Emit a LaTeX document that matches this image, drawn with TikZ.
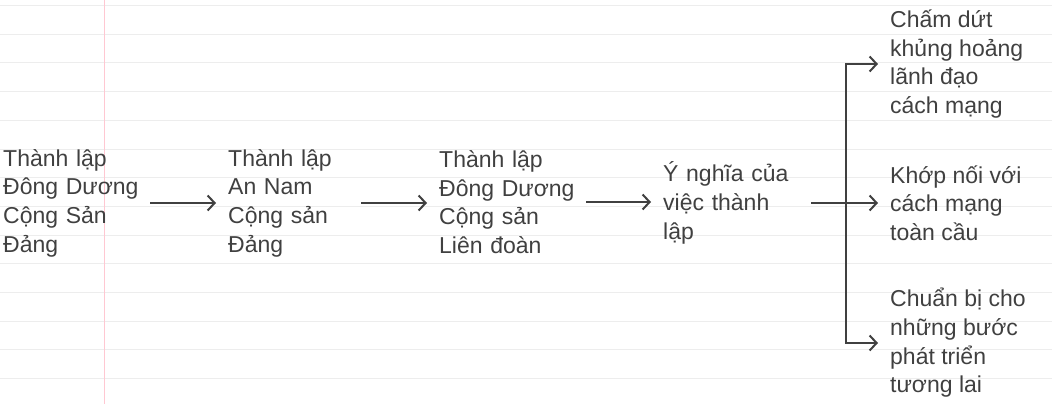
\documentclass[tikz,border=0pt]{standalone}
\usepackage{fontspec}
\setmainfont{Liberation Sans}
\usetikzlibrary{arrows.meta,positioning}
\definecolor{ink}{HTML}{404040}
\definecolor{rule}{HTML}{EDEDED}
\definecolor{margin}{HTML}{FFC8D2}
\tikzset{
  txt/.style={anchor=west, inner sep=0pt, align=left, text=ink, font=\fontsize{23}{28.7}\selectfont},
  arr/.style={draw=ink, line width=2pt, -{Straight Barb[length=7pt, width=15pt, line width=2pt]}, shorten >=12pt},
}

\begin{document}
\begin{tikzpicture}[x=1pt, y=-1pt]
  \useasboundingbox (0,0) rectangle (1052,404);

  % --- Lined paper ---
  \foreach \k in {0,...,13}
    \draw[rule, line width=1pt] (0,{5.5+28.7*\k}) -- (1052,{5.5+28.7*\k});
  \draw[margin, line width=1pt] (104.5,0) -- (104.5,404);

  % --- Chain of founding steps ---
  \node[txt, text width=147pt] (DDCSD) at (3,203) {Thành lập\\Đông Dương\\Cộng Sản\\Đảng};
  \node[txt, text width=133pt] (ANCSD) at (228,203) {Thành lập\\An Nam\\Cộng sản\\Đảng};
  \node[txt, text width=147pt] (DDCSLD) at (439,202) {Thành lập\\Đông Dương\\Cộng sản\\Liên đoàn};
  \node[txt, text width=148pt] (YN) at (663,203) {Ý nghĩa của\\việc thành\\lập};

  \draw[arr] (DDCSD.east) -- (DDCSD.east -| ANCSD.west);
  \draw[arr] (ANCSD.east) -- (ANCSD.east -| DDCSLD.west);
  \draw[arr] (DDCSLD.east) -- (DDCSLD.east -| YN.west);

  % --- Outcomes ---
  \node[txt] (Lead) at (890,64) {Chấm dứt\\khủng hoảng\\lãnh đạo\\cách mạng};
  \node[txt] (Link) at (890,203) {Khớp nối với\\cách mạng\\toàn cầu};
  \node[txt] (Prep) at (890,343) {Chuẩn bị cho\\những bước\\phát triển\\tương lai};

  \coordinate (split) at (846,203);
  \draw[arr] (YN.east) -- (YN.east -| Link.west);
  \draw[arr] (split) |- (Lead.west);
  \draw[arr] (split) |- (Prep.west);
\end{tikzpicture}
\end{document}
